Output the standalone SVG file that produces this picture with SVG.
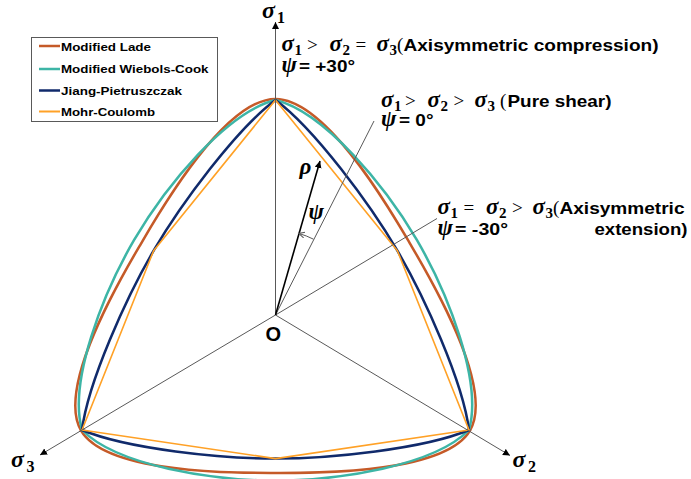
<svg xmlns="http://www.w3.org/2000/svg" width="691" height="479" viewBox="0 0 691 479">
<style>
.ax{stroke:#595959;stroke-width:1;fill:none}
.cv{fill:none;stroke-width:1.13;stroke-linejoin:round;stroke-linecap:round}
.ml{stroke:#C55A28}
.wc{stroke:#3DB5A6}
.jp{stroke:#102A6B}
.mc{stroke:#FFA126;stroke-width:0.72}
.ar{font-family:"Liberation Sans",Arial,sans-serif;font-weight:bold;font-size:17px;fill:#000}
.mi{font-family:"Liberation Serif","DejaVu Serif",serif;font-weight:bold;font-style:italic;font-size:23px}
.sb{font-family:"Liberation Serif","DejaVu Serif",serif;font-weight:bold;font-style:normal;font-size:15px}
.op{font-family:"Liberation Serif","DejaVu Serif",serif;font-weight:normal;font-style:normal;font-size:19px}
.lg{font-family:"Liberation Sans",Arial,sans-serif;font-weight:bold;font-size:11.5px;fill:#000}
</style>
<defs>
<marker id="ah" markerWidth="8" markerHeight="8" refX="7" refY="3.5" orient="auto" markerUnits="userSpaceOnUse"><path d="M0,0 L7,3.5 L0,7 z" fill="#000"/></marker>
<marker id="oa" markerWidth="8" markerHeight="8" refX="6" refY="3" orient="auto" markerUnits="userSpaceOnUse"><path d="M0,0 L6,3 L0,6" fill="none" stroke="#595959" stroke-width="1"/></marker>
<path id="aML" d="M0,-100.5 C23,-100.5 52.2,-48.61 60.2,-34.75 C68.2,-20.9 98.53,30.33 87.03,50.25"/>
<path id="aWC" d="M0,-100 C22,-94.5 49.2,-60.75 63.2,-36.5 C77.21,-12.23 92.84,28.2 86.6,50"/>
<path id="aJP" d="M0,-100 C17.6,-86.8 42.56,-52.28 54.56,-31.5 C66.55,-10.72 83.97,28.16 86.6,50"/>
<path id="aMC" d="M0,-100 L54.56,-31.5 L86.6,50"/>
</defs>

<g id="curves" transform="translate(275.5,320) scale(2.234,2.2)">
<g id="modified-lade" class="cv ml"><use href="#aML"/><use href="#aML" transform="rotate(120)"/><use href="#aML" transform="rotate(240)"/></g>
<g id="wiebols-cook" class="cv wc"><use href="#aWC"/><use href="#aWC" transform="rotate(120)"/><use href="#aWC" transform="rotate(240)"/></g>
<g id="jiang-pietruszczak" class="cv jp"><use href="#aJP"/><use href="#aJP" transform="rotate(120)"/><use href="#aJP" transform="rotate(240)"/></g>
<g id="mohr-coulomb" class="cv mc"><use href="#aMC"/><use href="#aMC" transform="rotate(120)"/><use href="#aMC" transform="rotate(240)"/></g>
</g>

<g id="connectors">
<line class="ax" x1="275.5" y1="315" x2="275.5" y2="22" marker-end="url(#ah)"/>
<line class="ax" x1="275.5" y1="315" x2="40" y2="455" marker-end="url(#ah)"/>
<line class="ax" x1="275.5" y1="315" x2="510" y2="455.5" marker-end="url(#ah)"/>
<line class="ax" x1="275.5" y1="315" x2="374" y2="121"/>
<line class="ax" x1="275.5" y1="315" x2="437" y2="218.5"/>
<line x1="275.5" y1="315" x2="320" y2="161" stroke="#000" stroke-width="1.6" marker-end="url(#ah)"/>
<path class="ax" d="M313.5,239.2 A85,85 0 0 0 298.7,233.4" marker-end="url(#oa)"/>
</g>

<g id="legend">
<rect x="31.5" y="37.5" width="186" height="84" fill="#fff" stroke="#595959" stroke-width="1"/>
<line x1="39" y1="46" x2="60" y2="46" stroke="#C55A28" stroke-width="2.5"/>
<line x1="39" y1="69" x2="60" y2="69" stroke="#3DB5A6" stroke-width="2.5"/>
<line x1="39" y1="90.5" x2="60" y2="90.5" stroke="#102A6B" stroke-width="2.5"/>
<line x1="39" y1="111.5" x2="60" y2="111.5" stroke="#FFA126" stroke-width="2"/>
<text class="lg" x="61" y="50.5" textLength="90" lengthAdjust="spacingAndGlyphs">Modified Lade</text>
<text class="lg" x="61" y="73" textLength="147.5" lengthAdjust="spacingAndGlyphs">Modified Wiebols-Cook</text>
<text class="lg" x="61" y="94.5" textLength="121" lengthAdjust="spacingAndGlyphs">Jiang-Pietruszczak</text>
<text class="lg" x="61" y="115.5" textLength="94" lengthAdjust="spacingAndGlyphs">Mohr-Coulomb</text>
</g>

<g id="axis-labels">
<text class="ar"><tspan class="mi" x="262" y="17.5" style="font-size:24px">σ</tspan><tspan class="sb" x="277" y="22.5" style="font-size:16px">1</tspan></text>
<text class="ar"><tspan class="mi" x="11" y="467" style="font-size:24px">σ</tspan><tspan class="sb" x="26.5" y="472" style="font-size:16px">3</tspan></text>
<text class="ar"><tspan class="mi" x="512.5" y="467" style="font-size:24px">σ</tspan><tspan class="sb" x="528" y="472" style="font-size:16px">2</tspan></text>
<text class="ar" x="265.5" y="340.5" style="font-size:20px">O</text>
<text class="ar"><tspan class="mi" x="299.5" y="174">ρ</tspan></text>
<text class="ar"><tspan class="mi" x="308.5" y="219">ψ</tspan></text>
</g>

<g id="label-compression">
<text class="ar"><tspan class="mi" x="281.5" y="50.5">σ</tspan><tspan class="sb" x="294.5" y="54.5">1</tspan><tspan class="op" x="307" y="50.5">&gt;</tspan><tspan class="mi" x="329.5" y="50.5">σ</tspan><tspan class="sb" x="342.5" y="54.5">2</tspan><tspan class="op" x="355.5" y="50.5">=</tspan><tspan class="mi" x="376.5" y="50.5">σ</tspan><tspan class="sb" x="389.5" y="54.5">3</tspan><tspan class="op" x="397" y="50.5">(</tspan></text>
<text class="ar" x="403.5" y="50.5" textLength="255" lengthAdjust="spacingAndGlyphs">Axisymmetric compression)</text>
<text class="ar"><tspan class="mi" x="281.5" y="71.5">ψ</tspan></text>
<text class="ar" x="299" y="71.5" textLength="56" lengthAdjust="spacingAndGlyphs">= +30°</text>
</g>

<g id="label-shear">
<text class="ar"><tspan class="mi" x="381" y="106.5">σ</tspan><tspan class="sb" x="394" y="110.5">1</tspan><tspan class="op" x="405" y="106.5">&gt;</tspan><tspan class="mi" x="427.5" y="106.5">σ</tspan><tspan class="sb" x="440.5" y="110.5">2</tspan><tspan class="op" x="453.5" y="106.5">&gt;</tspan><tspan class="mi" x="474.5" y="106.5">σ</tspan><tspan class="sb" x="487.5" y="110.5">3</tspan><tspan class="op" x="500" y="106.5">(</tspan></text>
<text class="ar" x="507.5" y="106.5" textLength="104" lengthAdjust="spacingAndGlyphs">Pure shear)</text>
<text class="ar"><tspan class="mi" x="381" y="126">ψ</tspan></text>
<text class="ar" x="399" y="126" textLength="34.5" lengthAdjust="spacingAndGlyphs">= 0°</text>
</g>

<g id="label-extension">
<text class="ar"><tspan class="mi" x="437.5" y="213.5">σ</tspan><tspan class="sb" x="450.5" y="217.5">1</tspan><tspan class="op" x="463.5" y="213.5">=</tspan><tspan class="mi" x="486" y="213.5">σ</tspan><tspan class="sb" x="499" y="217.5">2</tspan><tspan class="op" x="512" y="213.5">&gt;</tspan><tspan class="mi" x="532.5" y="213.5">σ</tspan><tspan class="sb" x="545.5" y="217.5">3</tspan><tspan class="op" x="553" y="213.5">(</tspan></text>
<text class="ar" x="559.5" y="213.5" textLength="125" lengthAdjust="spacingAndGlyphs">Axisymmetric</text>
<text class="ar"><tspan class="mi" x="437.5" y="234.5">ψ</tspan></text>
<text class="ar" x="455" y="234.5" textLength="53" lengthAdjust="spacingAndGlyphs">= -30°</text>
<text class="ar" x="594.5" y="234.5" textLength="93" lengthAdjust="spacingAndGlyphs">extension)</text>
</g>
</svg>
